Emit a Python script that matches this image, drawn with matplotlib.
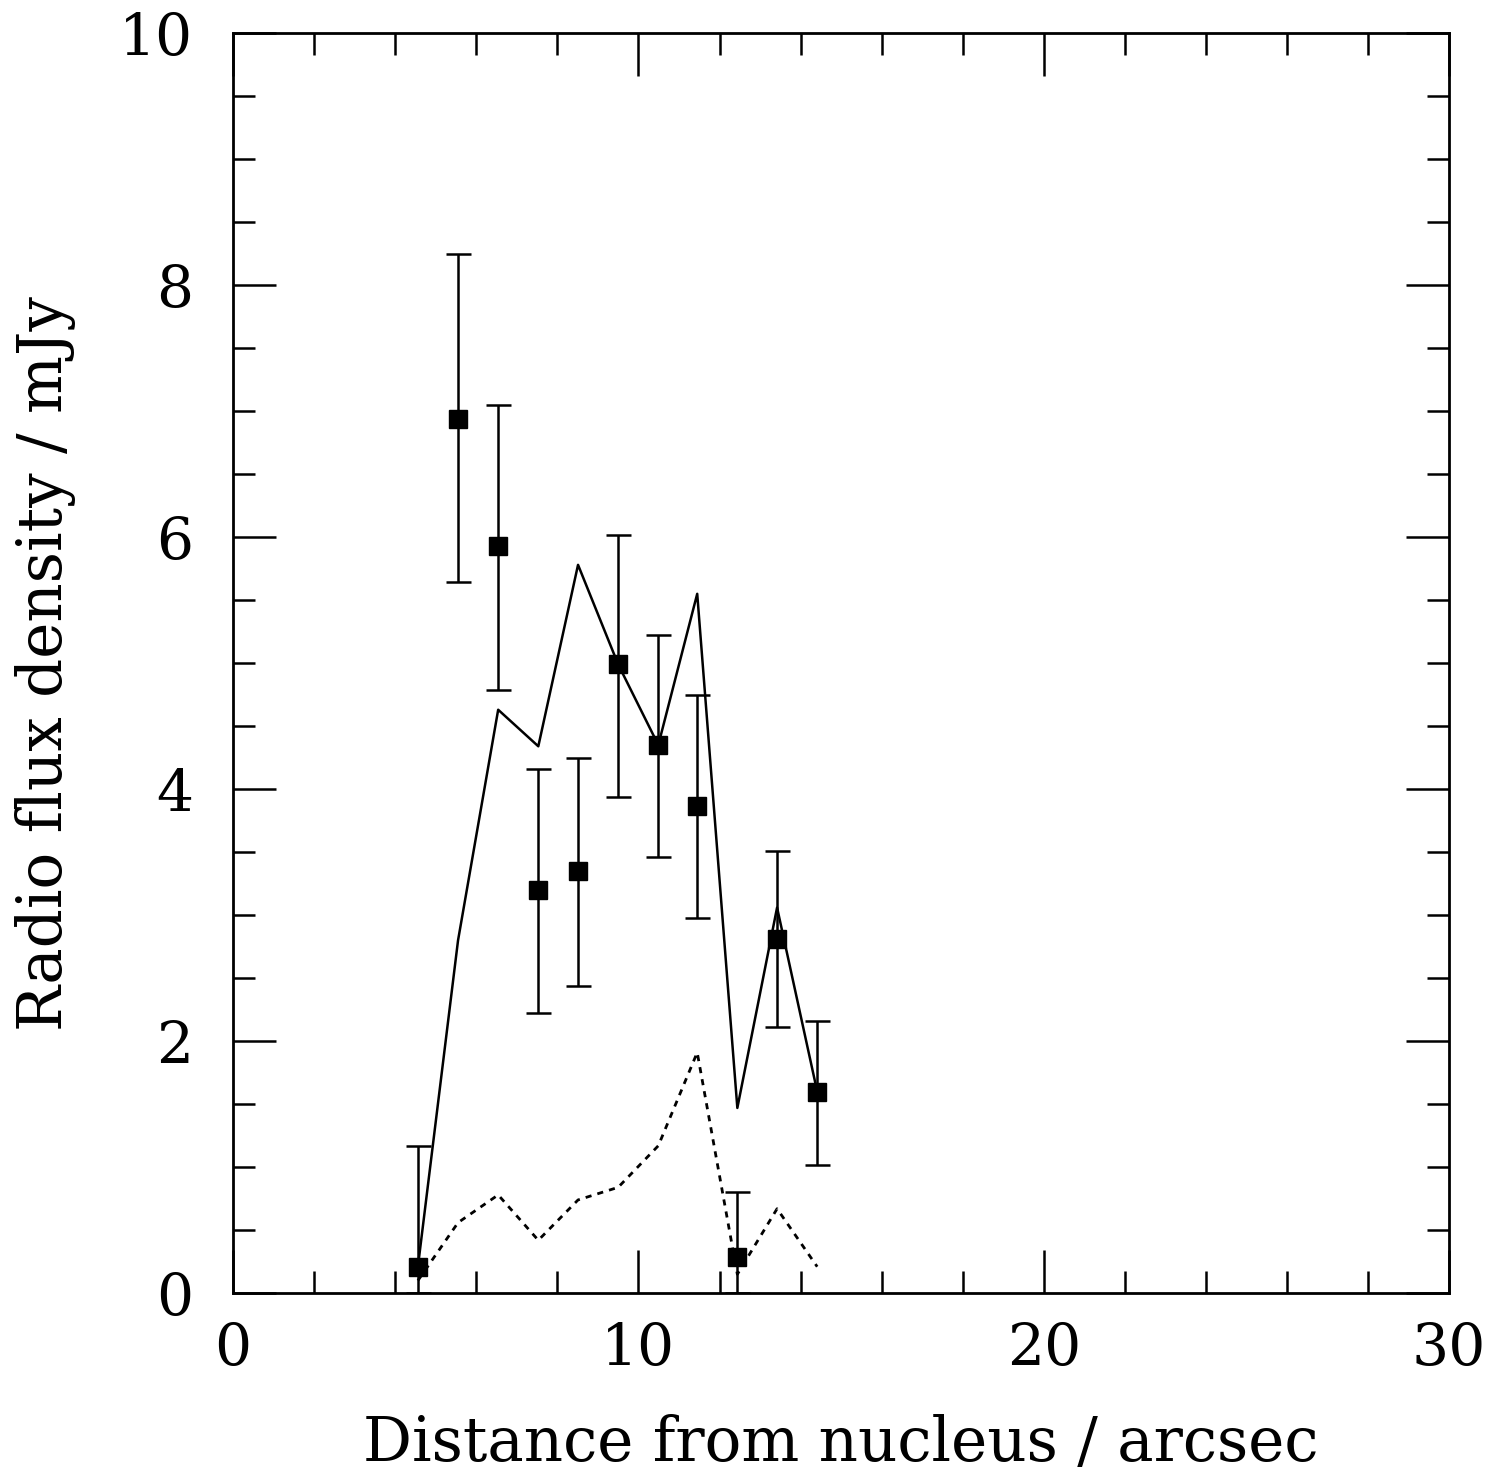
import matplotlib.pyplot as plt
from matplotlib.ticker import MultipleLocator

plt.rcParams['font.family'] = ['DejaVu Serif']

# measured flux profile
dist = [4.56, 5.55, 6.54, 7.53, 8.51, 9.50, 10.49, 11.45, 12.44, 13.42, 14.41]
flux = [0.21, 6.94, 5.93, 3.20, 3.35, 4.99, 4.35, 3.87, 0.29, 2.81, 1.60]
err_hi = [1.17, 8.25, 7.05, 4.16, 4.25, 6.02, 5.22, 4.75, 0.80, 3.51, 2.16]
err_lo = [0.0, 5.64, 4.79, 2.22, 2.44, 3.94, 3.46, 2.98, 0.0, 2.11, 1.02]

# model curves
model_solid = [0.21, 2.80, 4.63, 4.34, 5.78, 4.99, 4.35, 5.55, 1.47, 3.06, 1.60]
model_dotted = [0.10, 0.56, 0.78, 0.42, 0.74, 0.84, 1.17, 1.91, 0.15, 0.67, 0.21]

fig = plt.figure(figsize=(14.94, 14.83), dpi=100)
ax = fig.add_axes([0.156, 0.128, 0.814, 0.8497])

yerr = [[f - lo for f, lo in zip(flux, err_lo)], [hi - f for f, hi in zip(flux, err_hi)]]

ax.plot(dist, model_solid, 'k-', lw=1.8)
ax.plot(dist, model_dotted, color='k', ls=(0, (2.2, 2.2)), lw=2)
ax.errorbar(dist, flux, yerr=yerr, fmt='s', color='k', ms=13, capsize=9,
            elinewidth=1.8, capthick=1.8)

ax.set_xlim(0, 30)
ax.set_ylim(0, 10)
ax.xaxis.set_major_locator(MultipleLocator(10))
ax.xaxis.set_minor_locator(MultipleLocator(2))
ax.yaxis.set_major_locator(MultipleLocator(2))
ax.yaxis.set_minor_locator(MultipleLocator(0.5))
ax.tick_params(which='both', direction='in', top=True, right=True, width=1.8)
ax.tick_params(which='major', length=31, labelsize=42)
ax.tick_params(which='minor', length=16)
ax.tick_params(axis='x', which='major', pad=20)
ax.tick_params(axis='y', which='major', pad=29)
for s in ax.spines.values():
    s.set_linewidth(2)

ax.set_xlabel('Distance from nucleus / arcsec', fontsize=44, labelpad=27)
ax.set_ylabel('Radio flux density / mJy', fontsize=44, labelpad=31)

plt.savefig('out.png', dpi=100)
